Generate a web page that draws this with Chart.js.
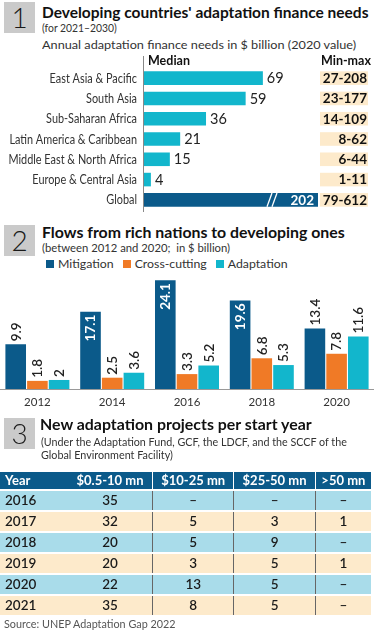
<!DOCTYPE html>
<html>
<head>
<meta charset="utf-8">
<script src="https://cdn.jsdelivr.net/npm/chart.js@4.4.1/dist/chart.umd.min.js"></script>
<style>
  body { margin: 0; width: 374px; height: 630px; position: relative; overflow: hidden; background: #fff; font-family: Lato, sans-serif; color: #222; }
  .num { position: absolute; left: 4px; width: 31px; height: 31px; background: #cacaca; font-size: 28px; line-height: 31px; text-align: center; color: #1a1a1a; font-weight: 300; }
  .fit { position: absolute; white-space: nowrap; transform-origin: 0 0; }
  .title { left: 42px; font-weight: 700; font-size: 15.5px; line-height: 16px; color: #111; }
  .sub { left: 42px; font-size: 12px; color: #333; line-height: 15px; }
  canvas { position: absolute; left: 0; }
  .legend { position: absolute; top: 256px; left: 46px; font-size: 12.3px; line-height: 16px; color: #333; white-space: nowrap; }
  .legend span { margin-right: 9px; }
  .legend i { display: inline-block; width: 8px; height: 8px; margin-right: 4px; }
  table { position: absolute; top: 472px; left: 0; width: 371px; border-collapse: collapse; font-size: 13.5px; }
  th { background: #0b5a8a; color: #fff; font-weight: 700; height: 17px; line-height: 17px; padding: 0; font-size: 13px; }
  td { height: 19px; line-height: 19px; padding: 0; text-align: center; font-weight: 600; border-top: 2px solid #fff; color: #1a1a1a; }
  tr.b td { background: #a9dcea; }
  tr.o td { background: #fdeacb; }
  th + th + th, td + td + td { border-left: 1px solid #666; }
  th + th + th { border-left-color: #fff; }
  .src { left: 4px; top: 617px; font-size: 11px; color: #555; line-height: 13px; }
</style>
</head>
<body>

<div class="num" style="top:2px">1</div>
<div class="fit title" style="top:4px" data-w="326">Developing countries' adaptation finance needs</div>
<div class="fit sub" style="top:20px" data-w="75">(for 2021–2030)</div>
<div class="fit sub" style="top:37px" data-w="314">Annual adaptation finance needs in $ billion (2020 value)</div>
<canvas id="needs" width="374" height="160" style="top:52px"></canvas>

<div class="num" style="top:225px">2</div>
<div class="fit title" style="top:224px" data-w="303">Flows from rich nations to developing ones</div>
<div class="fit sub" style="top:240px" data-w="188">(between 2012 and 2020;&nbsp; in $ billion)</div>
<div class="legend" id="legend"></div>
<canvas id="flows" width="374" height="150" style="top:268px"></canvas>

<div class="num" style="top:418px">3</div>
<div class="fit title" style="top:416px; left:40px" data-w="272">New adaptation projects per start year</div>
<div class="fit sub" style="top:436px; left:41px; line-height:12.5px" data-w="306">(Under the Adaptation Fund, GCF, the LDCF, and the SCCF of the</div>
<div class="fit sub" style="top:448.5px; left:41px; line-height:12.5px" data-w="132">Global Environment Facility)</div>
<table id="projects"></table>
<div class="fit src" data-w="172">Source: UNEP Adaptation Gap 2022</div>

<script>
// chart 1 data
const regions = ['East Asia & Pacific', 'South Asia', 'Sub-Saharan Africa', 'Latin America & Caribbean',
  'Middle East & North Africa', 'Europe & Central Asia', 'Global'];
const medianNeeds = [69, 59, 36, 21, 15, 4, 202];
const minMax = ['27-208', '23-177', '14-109', '8-62', '6-44', '1-11', '79-612'];

// chart 2 data
const years = ['2012', '2014', '2016', '2018', '2020'];
const mitigation = [9.9, 17.1, 24.1, 19.6, 13.4];
const crossCutting = [1.8, 2.5, 3.3, 6.8, 7.8];
const adaptation = [2, 3.6, 5.2, 5.3, 11.6];

// table data
const startYears = [2016, 2017, 2018, 2019, 2020, 2021];
const sizeBands = ['$0.5-10 mn', '$10-25 mn', '$25-50 mn', '>50 mn'];
const band1 = [35, 32, 20, 20, 22, 35];
const band2 = [null, 5, 5, 3, 13, 8];
const band3 = [null, 3, 9, 5, 5, 5];
const band4 = [null, 1, null, 1, null, null];

const CYAN = '#12b6cc', NAVY = '#0b5a8a', ORANGE = '#f07a26';
const FONT = 'Lato, sans-serif';

// squeeze headline text to the reference widths
function fitText() {
  document.querySelectorAll('.fit').forEach(el => {
    el.style.transform = 'none';
    el.style.transform = `scaleX(${+el.dataset.w / el.scrollWidth})`;
  });
}
fitText();

const needsLabels = {
  id: 'needsLabels',
  afterDatasetsDraw(chart) {
    const { ctx, chartArea } = chart;
    const yScale = chart.scales.y;
    const meta = chart.getDatasetMeta(0);
    ctx.save();
    ctx.strokeStyle = '#888';
    ctx.lineWidth = 1;
    ctx.beginPath();
    ctx.moveTo(chartArea.left - 0.5, 4);
    ctx.lineTo(chartArea.left - 0.5, chartArea.bottom + 2);
    ctx.stroke();
    ctx.fillStyle = '#111';
    ctx.font = '700 12.5px ' + FONT;
    ctx.textBaseline = 'middle';
    ctx.fillText('Median', chartArea.left + 4, 9);
    ctx.fillText('Min-max', 321, 9);
    // category names, a little narrower than Lato
    ctx.fillStyle = '#333';
    ctx.font = '12.5px ' + FONT;
    ctx.textAlign = 'right';
    regions.forEach((r, i) => {
      ctx.save();
      ctx.translate(chartArea.left - 7, yScale.getPixelForTick(i) + 0.5);
      ctx.scale(0.87, 1);
      ctx.fillText(r, 0, 0);
      ctx.restore();
    });
    meta.data.forEach((bar, i) => {
      const v = medianNeeds[i];
      const h = bar.height;
      if (v > chart.scales.x.max) {
        ctx.strokeStyle = '#fff';
        ctx.lineWidth = 1.3;
        [269, 274].forEach(x => {
          ctx.beginPath();
          ctx.moveTo(x - 2, bar.y + h / 2);
          ctx.lineTo(x + 3, bar.y - h / 2);
          ctx.stroke();
        });
        ctx.fillStyle = '#fff';
        ctx.font = '700 13.5px ' + FONT;
        ctx.textAlign = 'right';
        ctx.fillText(String(v), chartArea.right - 4, bar.y + 0.5);
      } else {
        ctx.fillStyle = '#222';
        ctx.font = '14.5px ' + FONT;
        ctx.textAlign = 'left';
        ctx.fillText(String(v), bar.x + 4, bar.y + 0.5);
      }
      ctx.fillStyle = '#fdeacb';
      ctx.fillRect(320, bar.y - h / 2, 48, h);
      ctx.fillStyle = '#111';
      ctx.font = '700 13.5px ' + FONT;
      ctx.textAlign = 'right';
      ctx.fillText(minMax[i], 367, bar.y + 0.5);
    });
    ctx.restore();
  }
};

const needsChart = new Chart(document.getElementById('needs'), {
  type: 'bar',
  data: {
    labels: regions,
    datasets: [{
      data: medianNeeds,
      backgroundColor: regions.map((r, i) => i === regions.length - 1 ? NAVY : CYAN),
      barPercentage: 0.67,
      categoryPercentage: 1,
    }],
  },
  options: {
    indexAxis: 'y',
    responsive: false,
    animation: false,
    layout: { padding: { top: 16, bottom: 2, right: 56 } },
    plugins: { legend: { display: false }, tooltip: { enabled: false } },
    scales: {
      x: { display: false, min: 0, max: 101 },
      y: {
        grid: { display: false },
        border: { display: false },
        ticks: { display: false },
        afterFit: s => { s.width = 144; },
      },
    },
  },
  plugins: [needsLabels],
});

const flowLabels = {
  id: 'flowLabels',
  afterDatasetsDraw(chart) {
    const { ctx } = chart;
    ctx.save();
    ctx.textBaseline = 'middle';
    chart.data.datasets.forEach((ds, d) => {
      chart.getDatasetMeta(d).data.forEach((bar, i) => {
        const v = ds.data[i];
        ctx.save();
        if (v > 15) {
          ctx.translate(bar.x, bar.y + 3);
          ctx.rotate(-Math.PI / 2);
          ctx.textAlign = 'right';
          ctx.fillStyle = '#fff';
          ctx.font = '700 13.5px ' + FONT;
        } else {
          ctx.translate(bar.x, bar.y - 3);
          ctx.rotate(-Math.PI / 2);
          ctx.textAlign = 'left';
          ctx.fillStyle = '#222';
          ctx.font = '600 13.5px ' + FONT;
        }
        ctx.fillText(String(v), 0, 0.5);
        ctx.restore();
      });
    });
    ctx.restore();
  }
};

const flowSeries = [
  { label: 'Mitigation', data: mitigation, backgroundColor: NAVY },
  { label: 'Cross-cutting', data: crossCutting, backgroundColor: ORANGE },
  { label: 'Adaptation', data: adaptation, backgroundColor: CYAN },
];

const flowsChart = new Chart(document.getElementById('flows'), {
  type: 'bar',
  data: {
    labels: years,
    datasets: flowSeries.map(s => ({ ...s, categoryPercentage: 0.87, barPercentage: 0.95 })),
  },
  options: {
    responsive: false,
    animation: false,
    layout: { padding: { top: 4, left: 0, right: 0 } },
    plugins: { legend: { display: false }, tooltip: { enabled: false } },
    scales: {
      x: {
        grid: { display: false },
        border: { color: '#999' },
        ticks: { color: '#333', font: { family: FONT, size: 11.5 }, padding: -2 },
        afterFit: s => { s.height = 29; },
      },
      y: { display: false, min: 0, max: 25.9 },
    },
  },
  plugins: [flowLabels],
});

document.getElementById('legend').innerHTML = flowSeries
  .map(s => `<span><i style="background:${s.backgroundColor}"></i>${s.label}</span>`).join('');

const dash = v => (v == null ? '–' : v);
let rows = '<tr><th style="text-align:left;padding-left:5px;width:63px">Year</th>'
  + sizeBands.map(b => `<th>${b}</th>`).join('') + '</tr>';
startYears.forEach((y, i) => {
  rows += `<tr class="${i % 2 ? 'o' : 'b'}"><td style="text-align:left;padding-left:5px">${y}</td>`
    + [band1, band2, band3, band4].map(b => `<td>${dash(b[i])}</td>`).join('') + '</tr>';
});
document.getElementById('projects').innerHTML = rows;

document.fonts.ready.then(() => {
  fitText();
  needsChart.update();
  flowsChart.update();
});
</script>
</body>
</html>
